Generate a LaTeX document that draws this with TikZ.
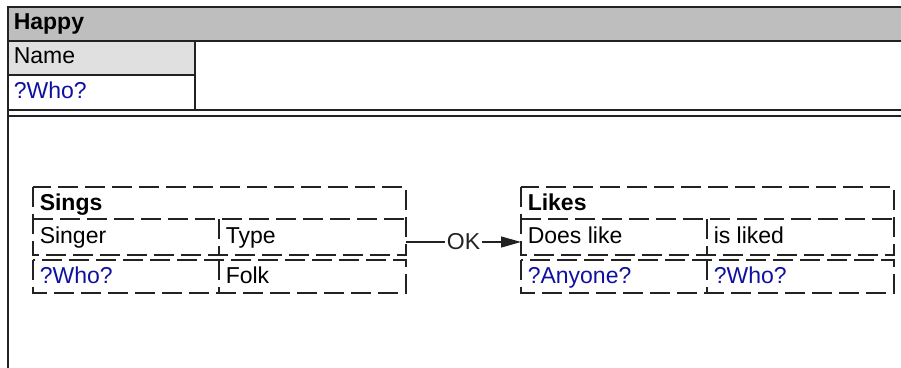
\documentclass[tikz,border=0pt]{standalone}
\usepackage{fontspec}
\setmainfont{Liberation Sans}
\usetikzlibrary{arrows.meta}
\definecolor{HeadGray}{HTML}{BEBEBE}
\definecolor{CellGray}{HTML}{E0E0E0}
\definecolor{LineDark}{HTML}{222222}
\definecolor{VarBlue}{HTML}{1010A0}
\newcommand{\qvar}[1]{\textcolor{VarBlue}{#1}}

\begin{document}
\begin{tikzpicture}[x=1pt, y=-1pt, line width=1.5pt,
  every node/.style={font=\fontsize{23}{27}\selectfont, inner sep=0pt, anchor=base west},
  dashbox/.style={LineDark, dash pattern=on 20pt off 7pt}]
\clip (0,0) rectangle (901,367);

% Frame
\fill[HeadGray] (8,7) rectangle (910,41);
\fill[CellGray] (8,41) rectangle (195,75);
\draw[LineDark] (910,7) -- (8,7) -- (8,375);
\draw[LineDark] (8,41) -- (910,41);
\draw[LineDark] (8,75) -- (195,75);
\draw[LineDark] (195,41) -- (195,110);
\draw[LineDark] (8,110) -- (910,110);
\draw[LineDark] (8,116) -- (910,116);

\node (happy) at (13,29) {\textbf{Happy}};
\node (name) at (13,63) {Name};
\node (who) at (13,98) {\qvar{?Who?}};

% Tables
\foreach \x in {33,521} {
  \draw[dashbox] (\x,187) rectangle (\x+373,255);
  \draw[dashbox] (\x,219) -- (\x+373,219);
  \draw[dashbox] (\x,260) rectangle (\x+373,293);
  \draw[dashbox] (\x+186,219) -- (\x+186,255);
  \draw[dashbox] (\x+186,260) -- (\x+186,293);
}

\node (sings) at (39,210) {\textbf{Sings}};
\node (singer) at (39,243) {Singer};
\node (type) at (225,243) {Type};
\node (singwho) at (39,283) {\qvar{?Who?}};
\node (folk) at (225,283) {Folk};

\node (likes) at (527,210) {\textbf{Likes}};
\node (doeslike) at (527,243) {Does like};
\node (isliked) at (713,243) {is liked};
\node (anyone) at (527,283) {\qvar{?Anyone?}};
\node (likedwho) at (713,283) {\qvar{?Who?}};

% Link
\coordinate (singsout) at (406,242);
\coordinate (likesin) at (521,242);
\draw[LineDark, line width=1.2pt, -{Triangle[length=20pt,width=11pt]}]
  (singsout) -- node[fill=white, inner sep=2pt, anchor=center] (ok) {OK} (likesin);
\end{tikzpicture}
\end{document}
